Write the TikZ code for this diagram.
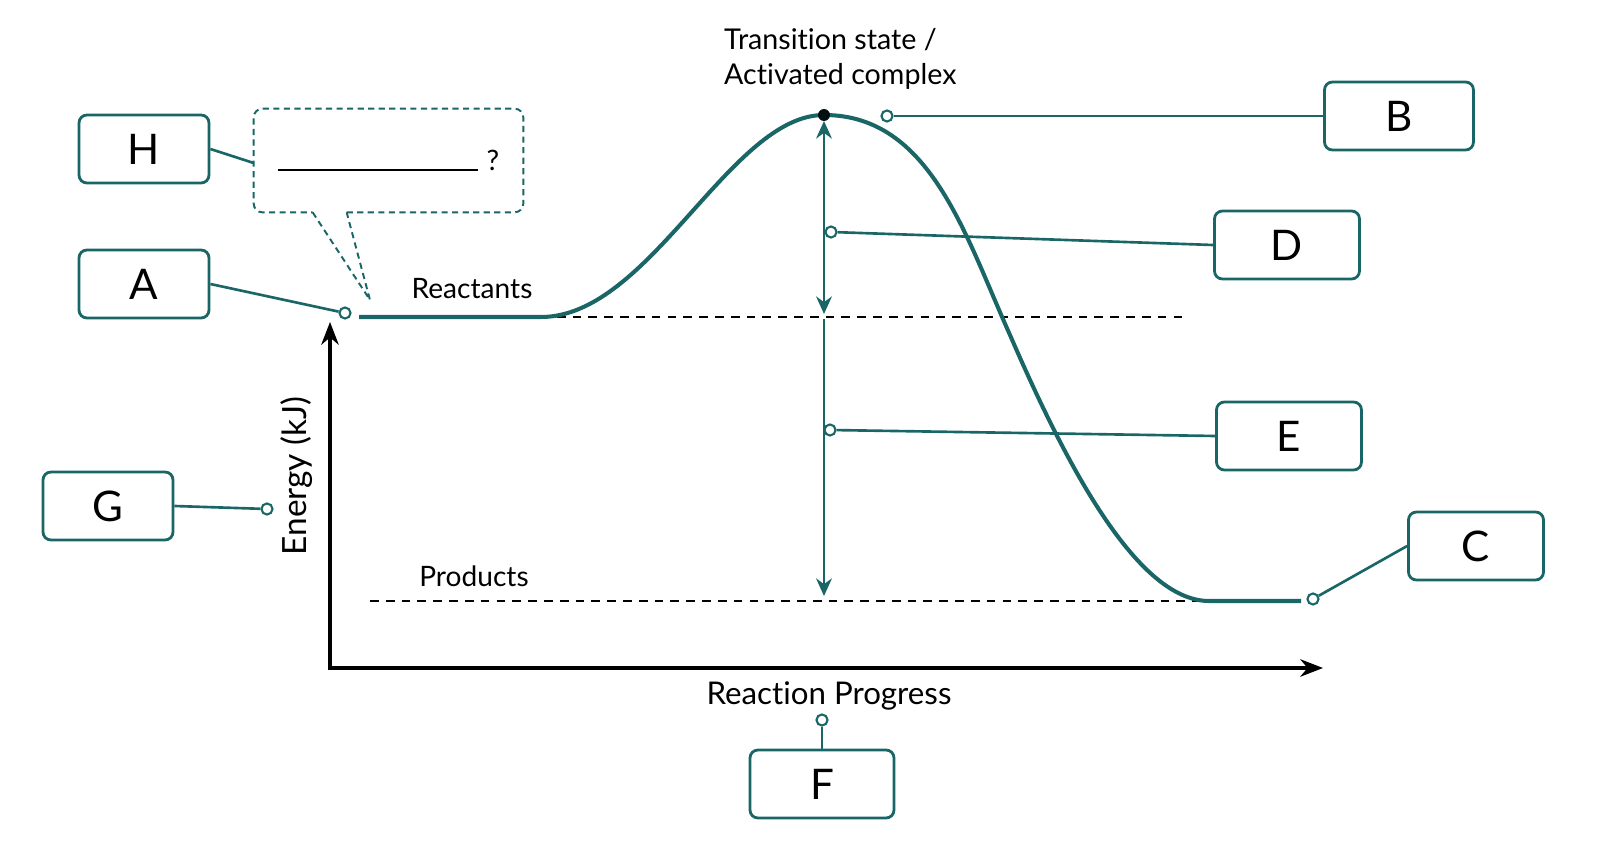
\documentclass[tikz,border=0pt]{standalone}
\usepackage{fontspec}
\setmainfont{Lato}[Ligatures=NoCommon]
\usepackage{tikz}
\usetikzlibrary{arrows.meta, positioning}

\definecolor{teal_c}{RGB}{26,102,102}

\begin{document}
\begin{tikzpicture}[
        x=0.02cm, y=-0.02cm,
        label_box/.style={
            draw=teal_c,
            rectangle,
            rounded corners=4.5pt,
            line width=1.6pt,
            minimum width=2.6cm,
            minimum height=1.36cm,
            inner sep=0pt,
            font=\fontsize{24}{28}\selectfont
        },
        pin_dot/.style={
            circle,
            draw=teal_c,
            fill=white,
            line width=1.2pt,
            minimum size=6.3pt,
            inner sep=0pt
        },
        pin_line/.style={
            draw=teal_c,
            line width=1.5pt
        },
        arrow_style/.style={
            draw=teal_c,
            line width=1.4pt,
            >={Stealth[length=10pt, width=9pt]}
        },
        level_line/.style={
            dash pattern=on 5pt off 4pt,
            line width=0.8pt
        },
        text_label/.style={
            font=\fontsize{16}{20}\selectfont
        }
    ]
        \useasboundingbox (0,0) rectangle (1600,854);

        % axes
        \coordinate (origin) at (330,668);
        \coordinate (y_end) at (330,322);
        \coordinate (x_end) at (1323,668);
        \draw[line width=1.8pt, {Stealth[length=13pt, width=10pt]}-{Stealth[length=13pt, width=10pt]}] (y_end) |- (x_end);
        \node[text_label, font=\fontsize{19}{22}\selectfont, rotate=90] (y_label) at (297,476) {Energy (kJ)};
        \node[text_label, font=\fontsize{17.8}{22}\selectfont] (x_label) at (829,696) {Reaction Progress};

        % energy levels
        \coordinate (react_start) at (359,317);
        \coordinate (react_end) at (541,317);
        \coordinate (peak) at (824,115);
        \coordinate (prod_start) at (1209,601);
        \coordinate (prod_end) at (1301,601);
        \draw[level_line] (react_end) -- (1187,317);
        \draw[level_line] (370,601) -- (prod_start);
        \draw[teal_c, line width=2.3pt] (react_start) -- (react_end)
            .. controls (650,317) and (730,115) .. (peak)
            .. controls (930,115) and (965,235) .. (1010,335)
            .. controls (1062,455) and (1135,601) .. (prod_start) -- (prod_end);
        \fill[black!85!teal_c] (peak) circle[radius=3.4pt];
        \node[text_label] (react_label) at (472,289) {Reactants};
        \node[text_label] (prod_label) at (474,576) {Products};
        \node[text_label, font=\fontsize{16.3}{20}\selectfont, anchor=north west, align=left] (ts_label) at (718,22) {Transition state /\\Activated complex};

        % energy arrows
        \coordinate (ea_top) at (824,121);
        \coordinate (ea_bot) at (824,314);
        \coordinate (dh_top) at (824,319);
        \coordinate (dh_bot) at (824,596);
        \draw[arrow_style, <->] (ea_top) -- (ea_bot);
        \draw[arrow_style, ->] (dh_top) -- (dh_bot);

        % speech bubble
        \node[minimum width=5.38cm, minimum height=2.06cm, inner sep=0pt] (bubble) at (388.5,160.5) {\rule{4cm}{1pt}\hspace{5pt}{\fontsize{16}{18}\selectfont ?}};
        \coordinate (tail_tip) at (370,300);
        \draw[teal_c, line width=1.1pt, dash pattern=on 3.5pt off 2.5pt, rounded corners=5pt]
            ([xshift=1.86cm]bubble.south west) -- (bubble.south east) -- (bubble.north east)
            -- (bubble.north west) -- (bubble.south west) -- ([xshift=1.18cm]bubble.south west);
        \draw[teal_c, line width=1.1pt, dash pattern=on 3.5pt off 2.5pt]
            ([xshift=1.18cm]bubble.south west) -- (tail_tip) -- ([xshift=1.86cm]bubble.south west);

        % label boxes
        \node[label_box] (H) at (144,149) {H};
        \node[label_box] (A) at (144,284) {A};
        \node[label_box] (G) at (108,506) {G};
        \node[label_box, minimum width=2.98cm] (B) at (1399,116) {B};
        \node[label_box, minimum width=2.9cm] (D) at (1287,245) {D};
        \node[label_box, minimum width=2.9cm] (E) at (1289,436) {E};
        \node[label_box, minimum width=2.7cm] (C) at (1476,546) {C};
        \node[label_box, minimum width=2.88cm] (F) at (822,784) {F};

        % pins
        \node[pin_dot] (pin_a) at (345,313) {};
        \node[pin_dot] (pin_b) at (887,116) {};
        \node[pin_dot] (pin_c) at (1313,599) {};
        \node[pin_dot] (pin_d) at (831,232) {};
        \node[pin_dot] (pin_e) at (830,430) {};
        \node[pin_dot] (pin_f) at (822,720) {};
        \node[pin_dot] (pin_g) at (267,509) {};

        \draw[pin_line] (H.east) -- (bubble.west |- 0,163);
        \draw[pin_line] (A.east) -- (pin_a);
        \draw[pin_line] (pin_b) -- (B.west);
        \draw[pin_line] (pin_c) -- (C.west);
        \draw[pin_line] (pin_d) -- (D.west);
        \draw[pin_line] (pin_e) -- (E.west);
        \draw[pin_line] (pin_f) -- (F.north);
        \draw[pin_line] (G.east) -- (pin_g);
    \end{tikzpicture}
\end{document}
